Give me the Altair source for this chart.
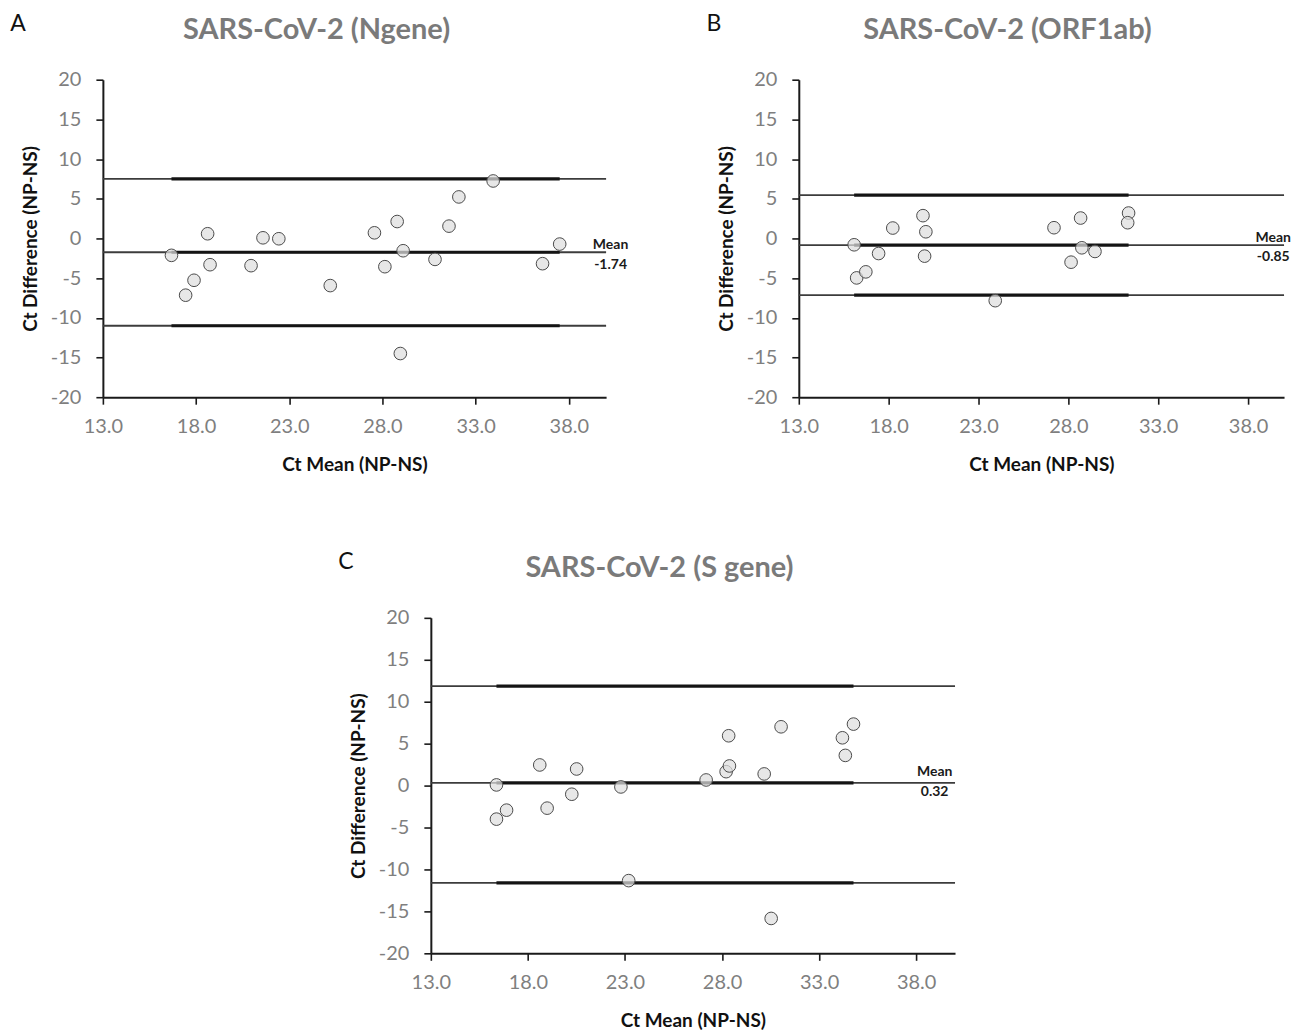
import altair as alt
import pandas as pd

# ---------------- data ----------------
# Panel A: SARS-CoV-2 (Ngene)
a_mean = [16.68, 17.44, 17.89, 18.62, 18.75, 20.95, 21.59, 22.44, 25.20, 27.57,
          28.13, 28.79, 29.11, 28.96, 30.82, 31.57, 32.10, 33.94, 36.59, 37.51]
a_diff = [-2.13, -7.15, -5.27, 0.59, -3.31, -3.43, 0.08, -0.04, -5.94, 0.71,
          -3.56, 2.13, -1.55, -14.50, -2.64, 1.55, 5.23, 7.24, -3.18, -0.71]
a_limits = [7.5, -1.74, -11.0]

# Panel B: SARS-CoV-2 (ORF1ab)
b_mean = [16.08, 16.22, 16.73, 17.44, 18.23, 19.91, 20.07, 20.00, 23.93, 27.20,
          28.15, 28.68, 28.75, 29.48, 31.35, 31.30]
b_diff = [-0.80, -4.97, -4.21, -1.90, 1.31, 2.87, 0.84, -2.23, -7.84, 1.35,
          -2.99, 2.57, -1.18, -1.64, 3.20, 1.98]
b_limits = [5.45, -0.85, -7.15]

# Panel C: SARS-CoV-2 (S gene)
c_mean = [16.38, 16.38, 16.90, 18.61, 18.99, 20.26, 20.51, 22.79, 23.19, 27.18,
          28.21, 28.38, 28.34, 30.17, 30.53, 31.04, 34.20, 34.35, 34.77]
c_diff = [0.08, -4.00, -2.93, 2.46, -2.69, -1.03, 1.98, -0.16, -11.33, 0.67,
          1.66, 2.34, 5.94, 1.39, -15.84, 7.01, 5.70, 3.60, 7.33]
c_limits = [11.85, 0.32, -11.6]

x_ticks = [13, 18, 23, 28, 33, 38]
y_ticks = [-20, -15, -10, -5, 0, 5, 10, 15, 20]
x_domain = [13, 40]
y_domain = [-20, 20]

FONT = "Lato"
LABEL_GREY = "#7f7f7f"
TITLE_GREY = "#7a7a7a"

X_AXIS = alt.Axis(values=x_ticks, labelExpr="format(datum.value, '.1f')",
                  title="Ct Mean (NP-NS)", labelFlush=False, labelPadding=12, titlePadding=19)
Y_AXIS = alt.Axis(values=y_ticks, labelExpr="'' + datum.value",
                  title="Ct Difference (NP-NS)", labelFlush=False, labelPadding=15, titlePadding=10)


def panel(xs, ys, limits, letter, title, w, h, mean_label_x, title_x, mean_dy, val_dy,
          right_pad=0):
    pts = pd.DataFrame({"x": xs, "y": ys})
    thin = pd.DataFrame({"y": limits, "x": [x_domain[0]] * 3, "x2": [x_domain[1]] * 3})
    thick = pd.DataFrame({"y": limits, "x": [min(xs)] * 3, "x2": [max(xs)] * 3})
    mean_val = limits[1]
    mean_lab = pd.DataFrame({"x": [mean_label_x], "y": [mean_val], "t": ["Mean"]})
    val_lab = pd.DataFrame({"x": [mean_label_x], "y": [mean_val], "t": [f"{mean_val:.2f}"]})

    xs_scale = alt.Scale(domain=x_domain, nice=False, zero=False)
    ys_scale = alt.Scale(domain=y_domain, nice=False, zero=False)

    def xe():
        return alt.X("x:Q", scale=xs_scale, axis=X_AXIS)

    def ye():
        return alt.Y("y:Q", scale=ys_scale, axis=Y_AXIS)

    points = alt.Chart(pts).mark_point(
        shape="circle", filled=True, size=160, fill="#dedede", fillOpacity=0.72,
        stroke="#4a4a4a", strokeWidth=1, opacity=1).encode(x=xe(), y=ye())
    base_thin = alt.Chart(thin).mark_rule(color="#3c3c3c", strokeWidth=1.8).encode(
        x=xe(), x2="x2:Q", y=ye())
    base_thick = alt.Chart(thick).mark_rule(color="#141414", strokeWidth=3.2).encode(
        x=xe(), x2="x2:Q", y=ye())
    mlab = alt.Chart(mean_lab).mark_text(
        font=FONT, fontSize=14, fontWeight="bold", color="#1a1a1a",
        align="center", baseline="middle", dy=mean_dy).encode(
        x=xe(), y=ye(), text="t:N")
    vlab = alt.Chart(val_lab).mark_text(
        font=FONT, fontSize=14, fontWeight="bold", color="#1a1a1a",
        align="center", baseline="middle", dy=val_dy).encode(
        x=xe(), y=ye(), text="t:N")
    letter_t = alt.Chart(pd.DataFrame({"t": [letter]})).mark_text(
        font=FONT, fontSize=23, color="#111111", align="center", baseline="middle").encode(
        x=alt.value(-85), y=alt.value(-56), text="t:N")
    title_t = alt.Chart(pd.DataFrame({"t": [title]})).mark_text(
        font=FONT, fontSize=29, fontWeight="bold", color=TITLE_GREY,
        align="center", baseline="middle").encode(
        x=alt.value(title_x), y=alt.value(-50), text="t:N")

    layers = [base_thin, base_thick, points, mlab, vlab, letter_t, title_t]
    if right_pad:
        # invisible spacer that only widens the panel's bounds on the right
        spacer = alt.Chart(pd.DataFrame({"t": [0]})).mark_rule(opacity=0).encode(
            x=alt.value(w + right_pad), y=alt.value(0), y2=alt.value(1))
        layers.append(spacer)
    return alt.layer(*layers).properties(width=w, height=h)


pA = panel(a_mean, a_diff, a_limits, "A", "SARS-CoV-2 (Ngene)", 504, 318, 40.24, 214, -7, 13)
pB = panel(b_mean, b_diff, b_limits, "B", "SARS-CoV-2 (ORF1ab)", 486, 318, 39.4, 209, -7, 12)
pC = panel(c_mean, c_diff, c_limits, "C", "SARS-CoV-2 (S gene)", 525, 336, 38.95, 229, -11, 9,
           right_pad=8)

chart = alt.vconcat(
    alt.hconcat(pA, pB, spacing=77),
    pC,
    spacing=77,
    center=True,
).properties(
    padding={"left": 2, "top": 4, "right": 0, "bottom": 0}
).configure_view(
    stroke=None
).configure_axis(
    grid=False,
    domainColor="#1a1a1a",
    domainWidth=2,
    tickColor="#1a1a1a",
    tickWidth=1.6,
    tickSize=7,
    labelFont=FONT,
    labelFontSize=20,
    labelColor=LABEL_GREY,
    titleFont=FONT,
    titleFontSize=19,
    titleFontWeight="bold",
    titleColor="#111111",
)

chart.save("out.html", embed_options={"renderer": "svg", "actions": False})
